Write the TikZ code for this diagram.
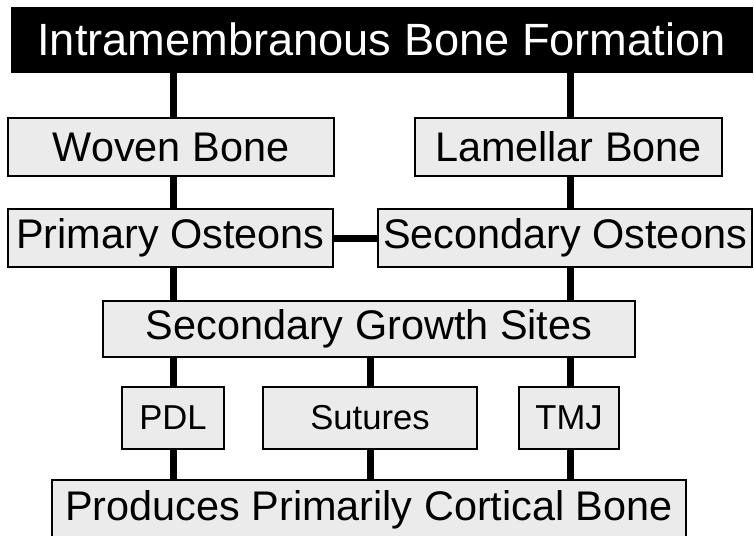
\documentclass[tikz,border=0pt]{standalone}
\usepackage{fontspec}
\setmainfont{Liberation Sans}
\usepackage{tikz}
\usepackage{xcolor}
\usetikzlibrary{positioning, calc}
\definecolor{cBox}{RGB}{235,235,235}
\tikzset{
	titlebox/.style={rectangle, draw=black, fill=black, text=white, inner sep=0pt, text centered, font=\fontsize{22.6}{25}\selectfont},
	bonebox/.style={rectangle, draw=black, line width=0.9pt, fill=cBox, inner sep=0pt, text centered, font=\fontsize{20.7}{23}\selectfont},
	sitebox/.style={bonebox, font=\fontsize{17.3}{20}\selectfont},
	link/.style={line width=3.5pt},
}

\begin{document}
\begin{tikzpicture}[x=0.5pt, y=-0.5pt]
			\useasboundingbox (0,0) rectangle (754,535);
			% columns of the tree
			\coordinate (colL) at (173,0);
			\coordinate (colM) at (370,0);
			\coordinate (colR) at (570,0);
			\node[titlebox, minimum width=370.5pt, minimum height=32.5pt] (title) at (381.5,39.5) {Intramembranous Bone Formation};
			\node[bonebox, minimum width=163pt, minimum height=29pt] (woven) at (171,147) {Woven Bone};
			\node[bonebox, minimum width=153.5pt, minimum height=29pt] (lamellar) at (568.5,147) {Lamellar Bone};
			\node[bonebox, minimum width=162.5pt, minimum height=29pt] (primary) at (170.5,238) {Primary Osteons};
			\node[bonebox, minimum width=187pt, minimum height=29pt] (secondary) at (565,238) {Secondary Osteons};
			\node[bonebox, minimum width=266pt, minimum height=28pt] (growth) at (369,329) {Secondary Growth Sites};
			\node[sitebox, minimum width=51pt, minimum height=31pt] (pdl) at (173,418) {PDL};
			\node[sitebox, minimum width=107pt, minimum height=31pt] (sutures) at (370,418) {Sutures};
			\node[sitebox, minimum width=50pt, minimum height=31pt] (tmj) at (569,418) {TMJ};
			\node[bonebox, minimum width=317pt, minimum height=30pt] (cortical) at (369,510) {Produces Primarily Cortical Bone};
			% connectors
			\draw[link] (title.south -| colL) -- (woven.north -| colL);
			\draw[link] (title.south -| colR) -- (lamellar.north -| colR);
			\draw[link] (woven.south -| colL) -- (primary.north -| colL);
			\draw[link] (lamellar.south -| colR) -- (secondary.north -| colR);
			\draw[link] (primary.east) -- (secondary.west);
			\draw[link] (primary.south -| colL) -- (growth.north -| colL);
			\draw[link] (secondary.south -| colR) -- (growth.north -| colR);
			\foreach \site/\col in {pdl/colL, sutures/colM, tmj/colR} {
				\draw[link] (growth.south -| \col) -- (\site.north -| \col);
				\draw[link] (\site.south -| \col) -- (cortical.north -| \col);
			}
		\end{tikzpicture}
\end{document}
